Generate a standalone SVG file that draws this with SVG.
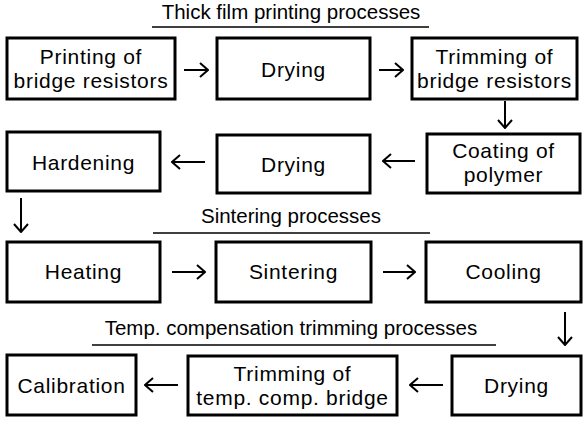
<svg xmlns="http://www.w3.org/2000/svg" width="588" height="423" viewBox="0 0 588 423">
<defs>
<style>
.box{fill:#fff;stroke:#000;stroke-width:3}
.t{font-family:"Liberation Sans",Arial,sans-serif;font-size:21px;letter-spacing:0.7px;fill:#000;text-anchor:middle}
.h{font-family:"Liberation Sans",Arial,sans-serif;font-size:20.5px;fill:#000;text-anchor:middle}
.rule{stroke:#000;stroke-width:1.5}
.arr{stroke:#000;stroke-width:2;fill:none}
</style>
<marker id="ah" viewBox="0 0 10 16" refX="9" refY="8" markerWidth="10" markerHeight="16" markerUnits="userSpaceOnUse" orient="auto">
<polyline points="1,1 9,8 1,15" fill="none" stroke="#000" stroke-width="2"/>
</marker>
</defs>
<rect width="588" height="423" fill="#fff"/>

<g id="titles">
<text class="h" x="291" y="19">Thick film printing processes</text>
<line class="rule" x1="152" y1="27" x2="429" y2="27"/>
<text class="h" x="291" y="223">Sintering processes</text>
<line class="rule" x1="153" y1="233" x2="430" y2="233"/>
<text class="h" x="291" y="335">Temp. compensation trimming processes</text>
<line class="rule" x1="92" y1="345" x2="496" y2="345"/>
</g>

<g id="n1"><rect class="box" x="7" y="38" width="168" height="61"/>
<text class="t" x="91" y="64">Printing of</text><text class="t" x="91" y="88">bridge resistors</text></g>
<g id="n2"><rect class="box" x="217" y="38" width="153" height="61"/>
<text class="t" x="293.5" y="77">Drying</text></g>
<g id="n3"><rect class="box" x="412" y="38" width="165" height="61"/>
<text class="t" x="494.5" y="64">Trimming of</text><text class="t" x="494.5" y="88">bridge resistors</text></g>

<g id="n4"><rect class="box" x="427" y="134" width="153" height="59"/>
<text class="t" x="503.5" y="158">Coating of</text><text class="t" x="503.5" y="182">polymer</text></g>
<g id="n5"><rect class="box" x="217" y="135" width="153" height="58"/>
<text class="t" x="293.5" y="172">Drying</text></g>
<g id="n6"><rect class="box" x="7" y="132" width="153" height="59"/>
<text class="t" x="83.5" y="170">Hardening</text></g>

<g id="n7"><rect class="box" x="7" y="242" width="153" height="60"/>
<text class="t" x="83.5" y="279">Heating</text></g>
<g id="n8"><rect class="box" x="216" y="242" width="155" height="60"/>
<text class="t" x="293.5" y="279">Sintering</text></g>
<g id="n9"><rect class="box" x="426" y="242" width="155" height="60"/>
<text class="t" x="503.5" y="279">Cooling</text></g>

<g id="n10"><rect class="box" x="452" y="356" width="129" height="59"/>
<text class="t" x="516.5" y="393">Drying</text></g>
<g id="n11"><rect class="box" x="188" y="356" width="209" height="59"/>
<text class="t" x="292.5" y="381">Trimming of</text><text class="t" x="292.5" y="405">temp. comp. bridge</text></g>
<g id="n12"><rect class="box" x="7" y="355" width="129" height="60"/>
<text class="t" x="71.5" y="393">Calibration</text></g>

<g id="connectors" class="arr">
<line x1="184" y1="70" x2="208" y2="70" marker-end="url(#ah)"/>
<line x1="379" y1="70" x2="403" y2="70" marker-end="url(#ah)"/>
<line x1="505" y1="101" x2="505" y2="128" marker-end="url(#ah)"/>
<line x1="415" y1="161" x2="383" y2="161" marker-end="url(#ah)"/>
<line x1="205" y1="162" x2="172" y2="162" marker-end="url(#ah)"/>
<line x1="21" y1="198" x2="21" y2="232" marker-end="url(#ah)"/>
<line x1="172" y1="272" x2="205" y2="272" marker-end="url(#ah)"/>
<line x1="383" y1="272" x2="415" y2="272" marker-end="url(#ah)"/>
<line x1="565" y1="312" x2="565" y2="345" marker-end="url(#ah)"/>
<line x1="443" y1="385" x2="410" y2="385" marker-end="url(#ah)"/>
<line x1="178" y1="385" x2="145" y2="385" marker-end="url(#ah)"/>
</g>
</svg>
